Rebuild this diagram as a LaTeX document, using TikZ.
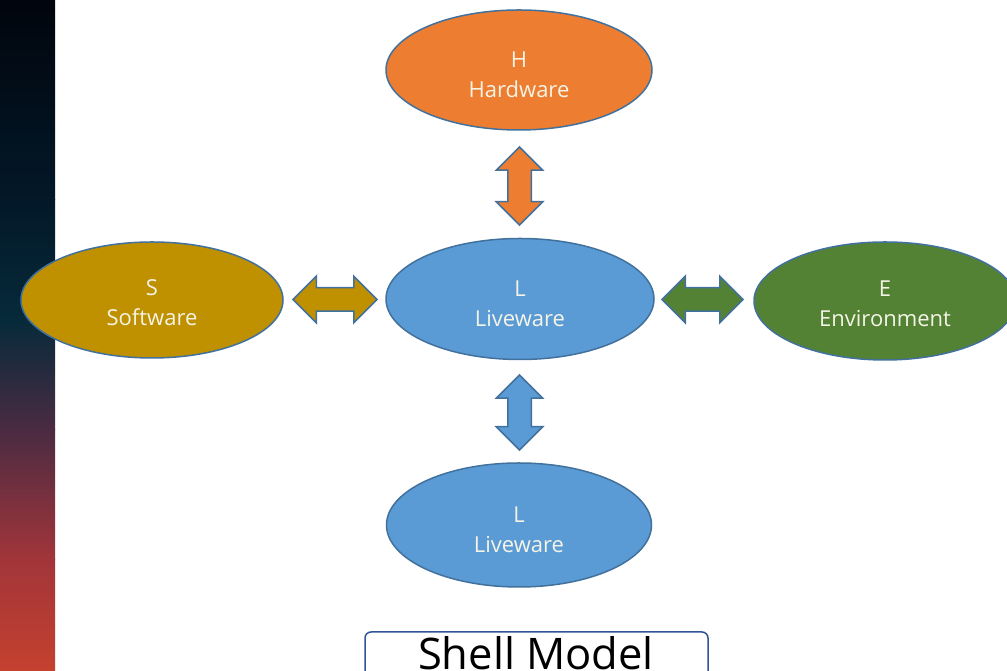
\documentclass[tikz,border=0pt]{standalone}
\usepackage{fontspec}
\setmainfont{Open Sans}
\usetikzlibrary{shapes.geometric,shapes.arrows}
\definecolor{hwfill}{HTML}{ED7D31}
\definecolor{lwfill}{HTML}{5B9BD5}
\definecolor{swfill}{HTML}{BF9000}
\definecolor{envfill}{HTML}{548235}
\definecolor{edgeblue}{HTML}{41719C}
\definecolor{boxblue}{HTML}{2F5597}
\definecolor{txtlight}{HTML}{F4F4E6}
\definecolor{g1}{HTML}{01050D}
\definecolor{g2}{HTML}{031828}
\definecolor{g3}{HTML}{062A3A}
\definecolor{g4}{HTML}{4A2B42}
\definecolor{g5}{HTML}{A2353A}
\definecolor{g6}{HTML}{C4412E}
\tikzset{
  blob/.style={ellipse, draw=edgeblue, line width=1.5pt, minimum width=266pt, minimum height=120pt, inner sep=0pt, align=center, text=txtlight, font=\fontsize{22}{30}\selectfont},
  blobtext/.style={inner sep=0pt, align=center, text=txtlight, font=\fontsize{22}{30}\selectfont},
  dblarrow/.style={double arrow, draw=edgeblue, line width=1.5pt, inner xsep=0pt, inner ysep=11pt, double arrow head extend=11.5pt},
  titlebox/.style={draw=boxblue, line width=1.5pt, rounded corners=6pt, fill=white, inner sep=0pt}
}
\begin{document}
\begin{tikzpicture}[x=1pt,y=1pt]
\useasboundingbox (0,0) rectangle (1007,671);
\fill[white] (0,0) rectangle (1007,671);
% left decorative strip
\shade[top color=g1,bottom color=g2] (0,471) rectangle (55,671.5);
\shade[top color=g2,bottom color=g3] (0,351) rectangle (55,471.5);
\shade[top color=g3,bottom color=g4] (0,241) rectangle (55,351.5);
\shade[top color=g4,bottom color=g5] (0,111) rectangle (55,241.5);
\shade[top color=g5,bottom color=g6] (0,0) rectangle (55,111.5);
% ellipses
\node[blob, fill=hwfill] (hw) at (519,601) {};
\node[blob, fill=lwfill, minimum width=268pt, minimum height=121pt] (lc) at (520,372) {};
\node[blob, fill=swfill, minimum width=262pt, minimum height=116pt] (sw) at (152,371) {};
\node[blob, fill=envfill, minimum width=262pt, minimum height=118pt] (env) at (885,370) {};
\node[blob, fill=lwfill, minimum width=265pt, minimum height=124pt] (lb) at (519,146) {};
\node[blobtext] (hwt) at ([yshift=-5pt]hw.center) {H\\Hardware};
\node[blobtext] (lct) at ([yshift=-5pt]lc.center) {L\\Liveware};
\node[blobtext] (swt) at ([yshift=-3pt]sw.center) {S\\Software};
\node[blobtext] (envt) at ([yshift=-3pt]env.center) {E\\Environment};
\node[blobtext] (lbt) at ([yshift=-5pt]lb.center) {L\\Liveware};
% double arrows
\node[dblarrow, fill=hwfill, rotate=90, minimum height=78pt] (a1) at (519.5,485) {};
\node[dblarrow, fill=lwfill, rotate=90, minimum height=75pt] (a2) at (519.5,258.5) {};
\node[dblarrow, fill=swfill, minimum height=84pt] (a3) at (335,371.5) {};
\node[dblarrow, fill=envfill, minimum height=81pt] (a4) at (702.5,371.5) {};
% title box
\node[titlebox, minimum width=343pt, minimum height=52pt] (title) at (536.5,13) {};
\node[inner sep=0pt, anchor=base, font=\fontsize{43.5}{50}\selectfont] (titletext) at (536,1.5) {Shell Model};
\end{tikzpicture}
\end{document}
